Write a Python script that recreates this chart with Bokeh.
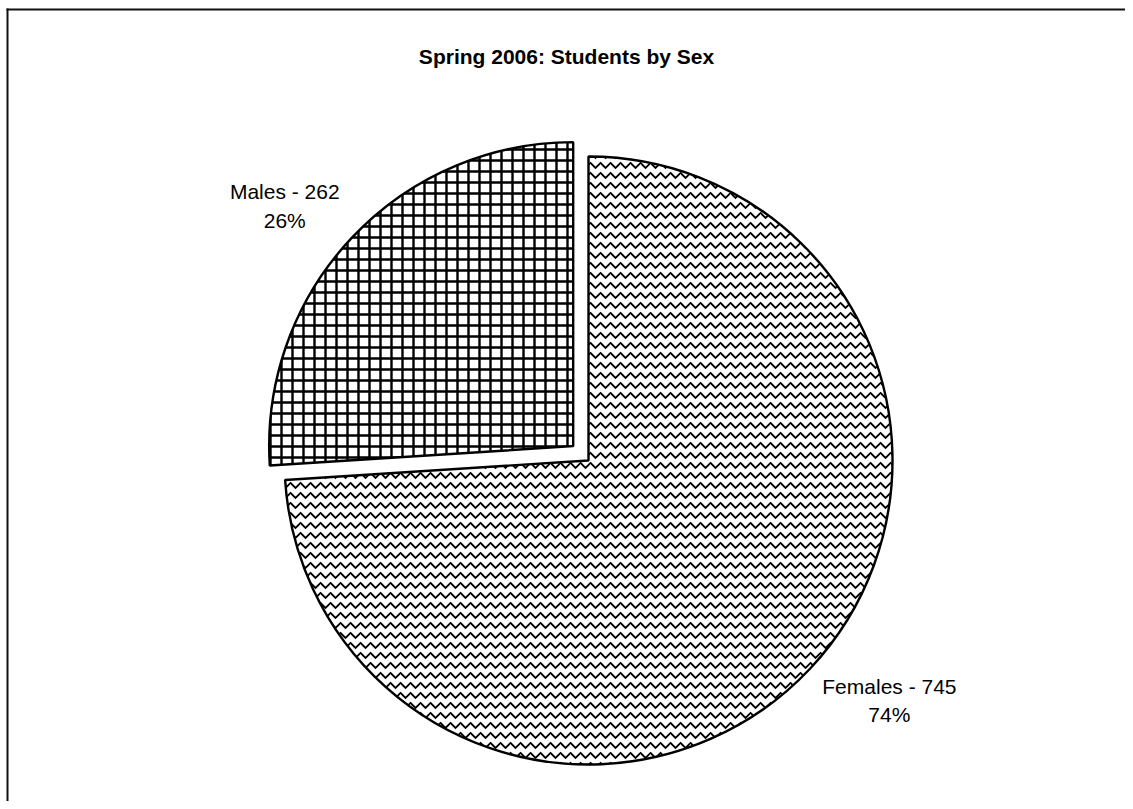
import math
from bokeh.plotting import figure
from bokeh.models import Range1d
from bokeh.core.properties import value
from bokeh.embed import file_html
from bokeh.resources import INLINE

# ---- data ----
categories = ["Females", "Males"]
counts = [745, 262]
title_text = "Spring 2006: Students by Sex"

# ---- layout (pixels; y measured up from the bottom of the figure) ----
W, H = 1125, 801
CX, CY = 588, 341          # pie centre
R = 304
EXPLODE = [0, 21]
HATCH = ["horizontal_wave", "cross"]
HSCALE = [10, 11]
HWEIGHT = [1.9, 2.4]
LABEL_BOX = [(135, 42), (110, 42)]
GAP = 16
BORDER_X, BORDER_Y = 7, H - 9

total = sum(counts)
fracs = [c / total for c in counts]

p = figure(width=W, height=H, output_backend="svg", toolbar_location=None,
           x_range=Range1d(0, W), y_range=Range1d(0, H), min_border=0,
           match_aspect=False)
p.axis.visible = False
p.xgrid.visible = False
p.ygrid.visible = False
p.outline_line_color = None
p.background_fill_color = "white"
p.border_fill_color = "white"

# chart border (top and left visible; the rest falls outside the window)
p.segment(x0=[BORDER_X - 1, BORDER_X], y0=[BORDER_Y, BORDER_Y + 1],
          x1=[W + 5, BORDER_X], y1=[BORDER_Y, -5],
          line_color="#111111", line_width=2)

start = math.pi / 2
for i, (cat, c, f) in enumerate(zip(categories, counts, fracs)):
    sweep = f * 2 * math.pi
    end = start - sweep
    mid = start - sweep / 2
    ux, uy = math.cos(mid), math.sin(mid)
    sx, sy = CX + EXPLODE[i] * ux, CY + EXPLODE[i] * uy
    p.wedge(x=sx, y=sy, radius=R, start_angle=end, end_angle=start,
            direction="anticlock", fill_color="white", line_color="black",
            line_width=2.4, hatch_pattern=HATCH[i], hatch_color="black",
            hatch_scale=HSCALE[i], hatch_weight=HWEIGHT[i])
    bw, bh = LABEL_BOX[i]
    lx = sx + (R + GAP) * ux + math.copysign(bw / 2, ux)
    ly = sy + (R + GAP) * uy + math.copysign(bh / 2, uy)
    p.text(x=[lx], y=[ly], text=[f"{cat} - {c}\n{round(f * 100)}%"],
           text_font=value("Liberation Sans"), text_font_size="21px",
           text_align="center", text_baseline="middle", text_line_height=1.25,
           text_color="black")
    start = end

p.text(x=[566], y=[H - 56], text=[title_text], text_font=value("Liberation Sans"),
       text_font_size="21px", text_font_style="bold", text_align="center",
       text_baseline="middle", text_color="black")

open("out.html", "w").write(file_html(p, INLINE))
